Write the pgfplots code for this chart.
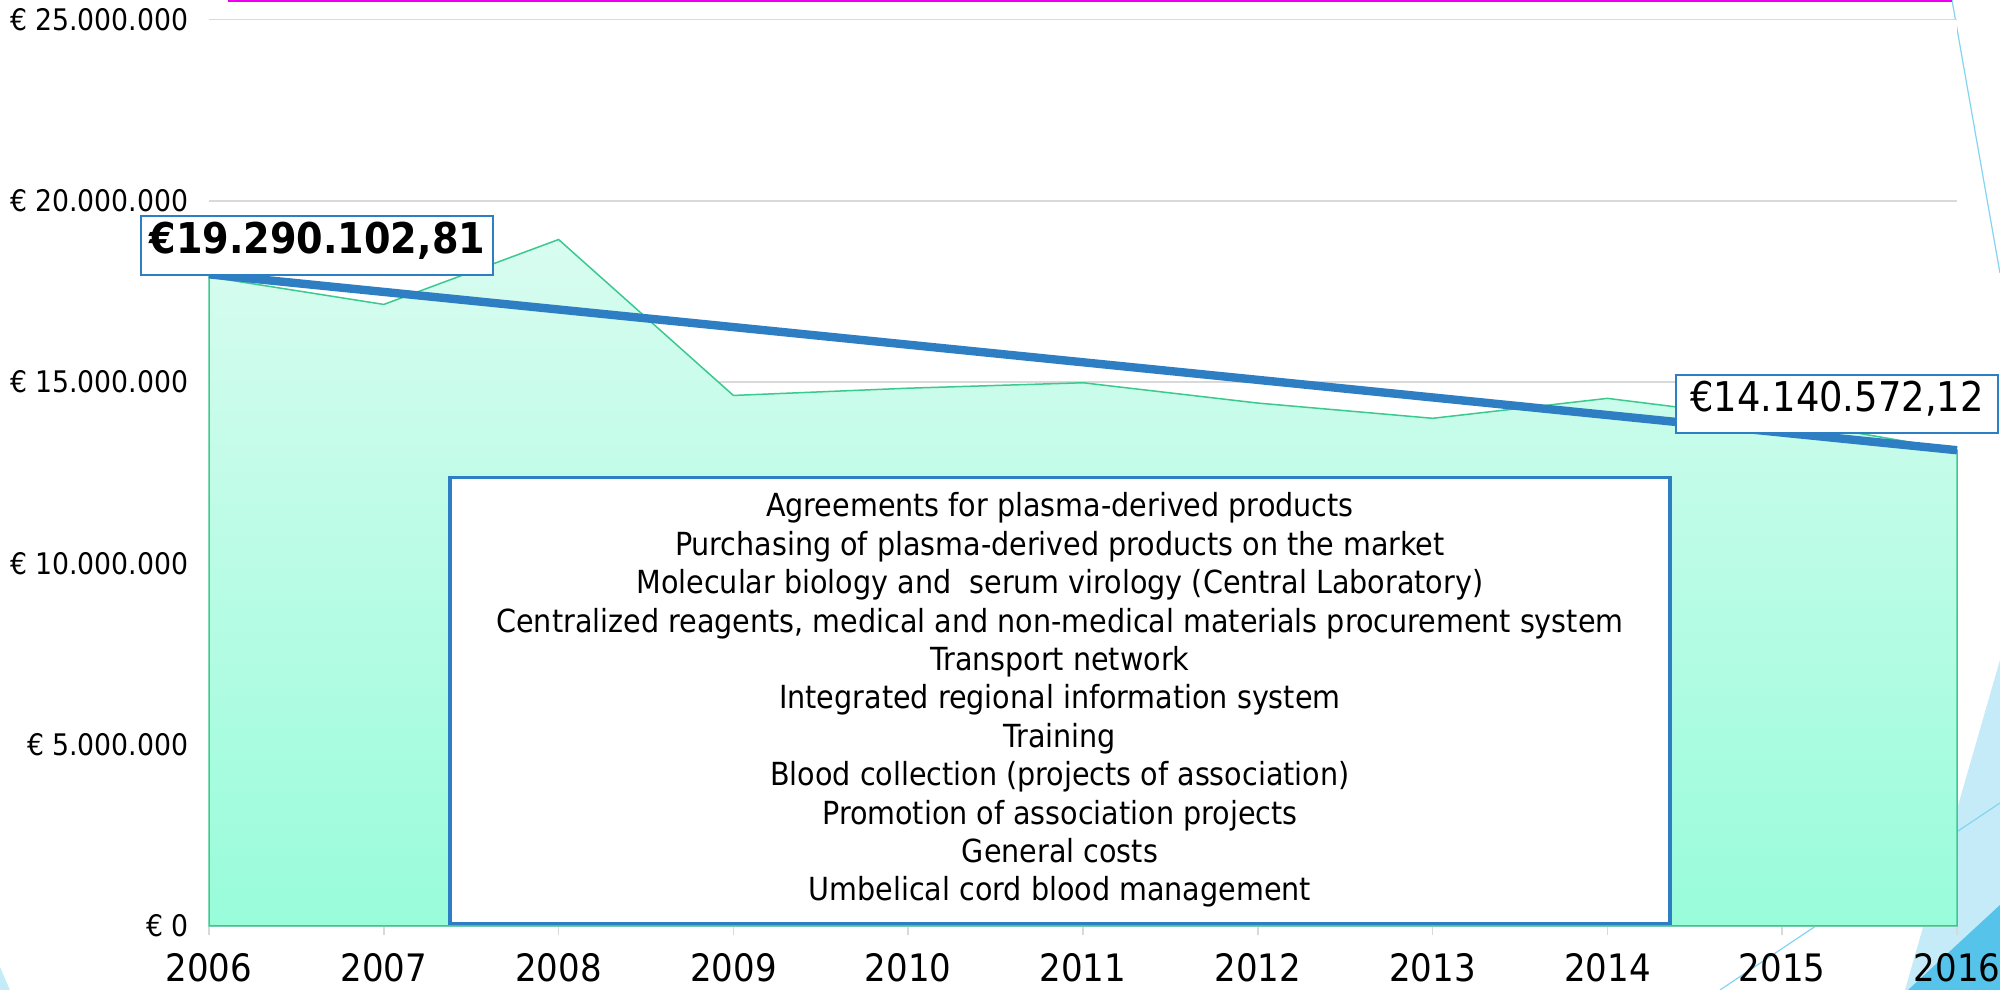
\documentclass[border=0pt]{standalone}
\usepackage{fontspec}
\setmainfont{DejaVu Sans Condensed}
\usepackage{pgfplots}
\pgfplotsset{compat=1.18}

\definecolor{trend}{RGB}{46,126,196}
\definecolor{areaLine}{RGB}{58,201,143}
\definecolor{areaTop}{RGB}{216,252,240}
\definecolor{areaBot}{RGB}{152,252,218}
\definecolor{gridGray}{RGB}{217,217,217}
\definecolor{decoLight}{RGB}{197,235,248}
\definecolor{decoDark}{RGB}{86,195,235}
\definecolor{decoLine}{RGB}{130,212,240}
\definecolor{accentMagenta}{RGB}{238,0,238}

\begin{document}
\begin{tikzpicture}
\useasboundingbox (0,0) rectangle (1000bp,495bp);

% slide ornaments behind the chart
\begin{scope}[x=0.5bp,y=0.5bp]
  \fill[decoLight] (2000,330) -- (1905,0) -- (2000,0) -- cycle;
  \fill[decoDark] (2000,85) -- (1908,0) -- (2000,0) -- cycle;
  \draw[decoLine, line width=0.6bp] (1720,0) -- (2000,187);
  \draw[decoLine, line width=0.6bp] (1952,990) -- (2000,717);
  \fill[decoLight] (0,23) -- (10,0) -- (0,0) -- cycle;
  \draw[accentMagenta, line width=1.2bp] (228,989.4) -- (1952,989.4);
\end{scope}

\begin{axis}[
  at={(104.5bp,32bp)}, anchor=south west,
  scale only axis, width=874bp, height=453.3bp,
  xmin=2006, xmax=2016, ymin=0, ymax=25000000,
  axis background/.style={fill=white},
  axis x line*=bottom, axis y line*=left,
  y axis line style={draw=none},
  x axis line style={gridGray, line width=1bp},
  xtick={2006,2007,2008,2009,2010,2011,2012,2013,2014,2015,2016},
  xticklabels={2006,2007,2008,2009,2010,2011,2012,2013,2014,2015,2016},
  ytick={0,5000000,10000000,15000000,20000000,25000000},
  yticklabels={€ 0,€ 5.000.000,€ 10.000.000,€ 15.000.000,€ 20.000.000,€ 25.000.000},
  scaled y ticks=false,
  ymajorgrids, grid style={gridGray, line width=0.8bp},
  tick align=outside, major tick length=4.5bp,
  xtick style={gridGray, line width=0.8bp},
  ytick style={draw=none},
  yticklabel style={font=\fontsize{14.85bp}{16bp}\selectfont,
                    inner sep=1bp, xshift=-4.6bp},
  xticklabel style={font=\fontsize{18.9bp}{22bp}\selectfont,
                    inner sep=0.5bp, text depth=0pt, yshift=-8.3bp},
  clip=false,
]
% yearly expenditure
\addplot[draw=areaLine, line width=0.75bp, top color=areaTop, bottom color=areaBot]
  coordinates {
    (2006,17900000) (2007,17140000) (2008,18930000) (2009,14630000)
    (2010,14830000) (2011,14980000) (2012,14420000) (2013,14000000)
    (2014,14550000) (2015,13950000) (2016,13120000)
  } \closedcycle;
% linear trend
\addplot[trend, line width=4.2bp] coordinates {(2006,17970000) (2016,13120000)};

\node[draw=trend, line width=0.9bp, fill=white, inner sep=0pt,
      minimum width=176bp, minimum height=29.5bp,
      text height=0.73em, text depth=0pt,
      font=\bfseries\fontsize{21.2bp}{24bp}\selectfont]
  at (axis cs:2006.62,18757000) {€19.290.102,81};
\node[draw=trend, line width=0.9bp, fill=white, inner sep=0pt,
      minimum width=161bp, minimum height=29bp,
      text height=0.73em, text depth=0pt,
      font=\fontsize{20.5bp}{24bp}\selectfont]
  at (axis cs:2015.314,14388000) {€14.140.572,12};

\node[draw=trend, line width=1.6bp, fill=white, inner sep=0pt,
      minimum width=610bp, minimum height=223bp, align=center,
      font=\fontsize{15.9bp}{19.2bp}\selectfont]
  at (axis cs:2010.868,6229000) {%
  Agreements for plasma-derived products\\
  Purchasing of plasma-derived products on the market\\
  Molecular biology and~ serum virology (Central Laboratory)\\
  Centralized reagents, medical and non-medical materials procurement system\\
  Transport network\\
  Integrated regional information system\\
  Training\\
  Blood collection (projects of association)\\
  Promotion of association projects\\
  General costs\\
  Umbelical cord blood management};
\end{axis}
\end{tikzpicture}
\end{document}
